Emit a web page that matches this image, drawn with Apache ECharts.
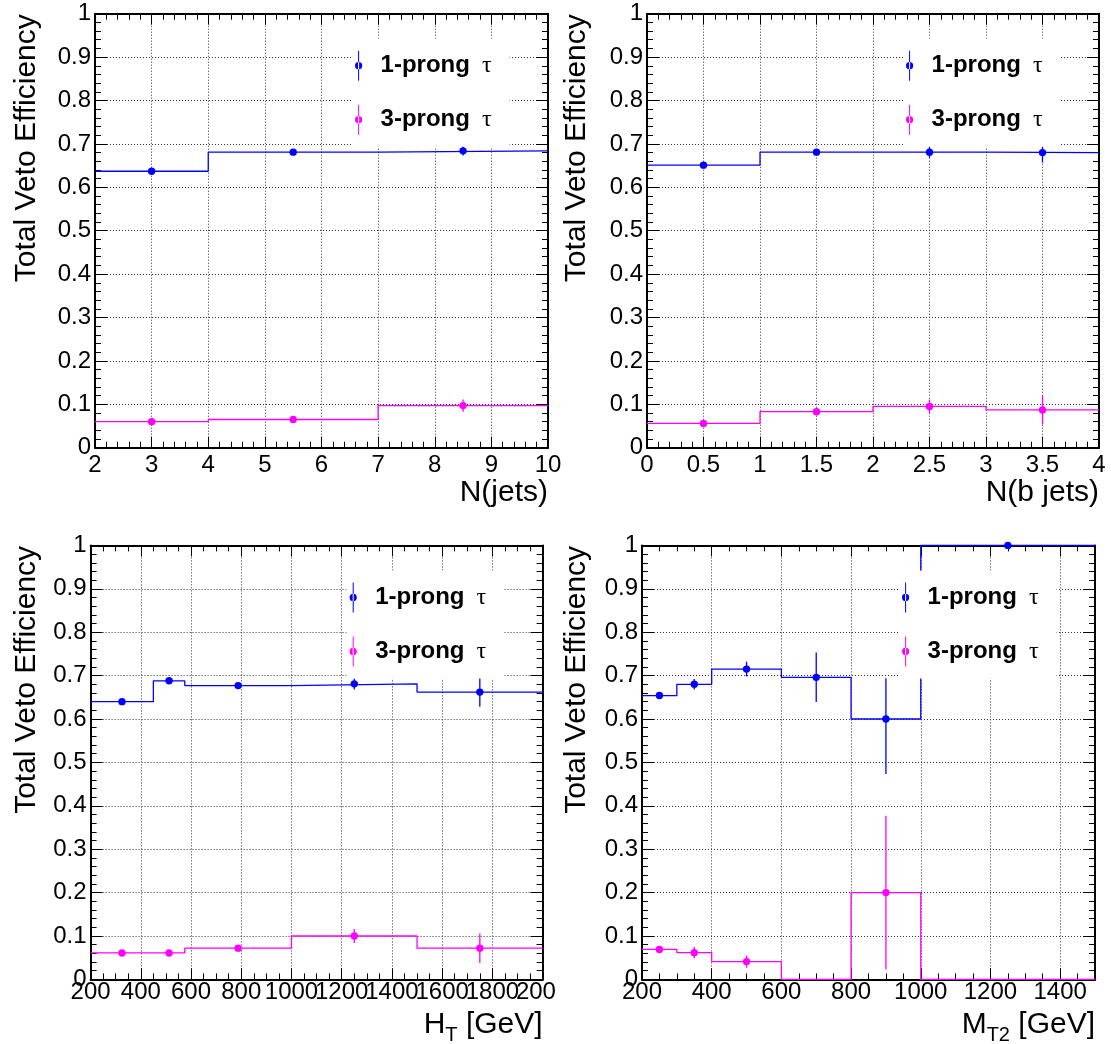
<!DOCTYPE html>
<html><head><meta charset="utf-8">
<script src="https://cdn.jsdelivr.net/npm/echarts@6/dist/echarts.min.js"></script>
<style>html,body{margin:0;padding:0;background:#fff}#c{width:1111px;height:1044px}</style>
</head><body><div id="c"></div><script>
// ---------- DATA ----------
// Panel 1: N(jets)
const njetsEdges = [2, 4, 7, 10];
const njets1prong = [0.637, 0.681, 0.684];
const njets1prongErr = [0.005, 0.005, 0.011];
const njets3prong = [0.060, 0.065, 0.097];
const njets3prongErr = [0.004, 0.005, 0.014];
const njetsTicks = ['2', '3', '4', '5', '6', '7', '8', '9', '10'];

// Panel 2: N(b jets)
const nbEdges = [0, 1, 2, 3, 4];
const nb1prong = [0.651, 0.681, 0.681, 0.680];
const nb1prongErr = [0.006, 0.006, 0.013, 0.023];
const nb3prong = [0.056, 0.083, 0.095, 0.087];
const nb3prongErr = [0.005, 0.007, 0.016, 0.033];
const nbTicks = ['0', '0.5', '1', '1.5', '2', '2.5', '3', '3.5', '4'];

// Panel 3: H_T [GeV]
const htEdges = [200, 450, 575, 1000, 1500, 2000];
const ht1prong = [0.640, 0.688, 0.677, 0.681, 0.662];
const ht1prongErr = [0.005, 0.006, 0.005, 0.013, 0.034];
const ht3prong = [0.061, 0.061, 0.072, 0.100, 0.072];
const ht3prongErr = [0.004, 0.005, 0.006, 0.016, 0.034];
const htTicks = ['200', '400', '600', '800', '1000', '1200', '1400', '1600', '1800', '2000'];

// Panel 4: M_T2 [GeV]  (null error = no efficiency point drawn)
const mt2Edges = [200, 300, 400, 600, 800, 1000, 1500];
const mt21prong = [0.654, 0.680, 0.715, 0.696, 0.600, 1.000];
const mt21prongErrLo = [0.005, 0.012, 0.017, 0.057, 0.127, 0];
const mt21prongErrHi = [0.005, 0.012, 0.017, 0.057, 0.094, 0];
const mt23prong = [0.069, 0.0615, 0.041, 0, 0.200, 0];
const mt23prongErrLo = [0.004, 0.013, 0.014, null, 0.177, null];
const mt23prongErrHi = [0.004, 0.013, 0.014, null, 0.177, null];
const mt2Ticks = ['200', '400', '600', '800', '1000', '1200', '1400'];

const yTicks = ['0', '0.1', '0.2', '0.3', '0.4', '0.5', '0.6', '0.7', '0.8', '0.9', '1'];
const seriesNames = ['1-prong \u03c4', '3-prong \u03c4'];
const yTitle = 'Total Veto Efficiency';

// ---------- STYLE / LAYOUT ----------
const FONT = '"Liberation Sans", Arial, Helvetica, sans-serif';
const SERIF = '"Liberation Serif", "DejaVu Serif", serif';
const BLUE = '#0000ff', MAG = '#ff00ff';

const panels = [
  { edges: njetsEdges, v: [njets1prong, njets3prong], lo: [njets1prongErr, njets3prongErr], hi: [njets1prongErr, njets3prongErr],
    xmin: 2, xmax: 10, xint: 1, xminor: 5, ticks: njetsTicks,
    title: '{n|N(jets)}', L: 95, T: 13.7, W: 453, H: 434, lm: 6, ytx: 27 },
  { edges: nbEdges, v: [nb1prong, nb3prong], lo: [nb1prongErr, nb3prongErr], hi: [nb1prongErr, nb3prongErr],
    xmin: 0, xmax: 4, xint: 0.5, xminor: 5, ticks: nbTicks,
    title: '{n|N(b jets)}', L: 647, T: 13.7, W: 452, H: 434, lm: 6, ytx: 577 },
  { edges: htEdges, v: [ht1prong, ht3prong], lo: [ht1prongErr, ht3prongErr], hi: [ht1prongErr, ht3prongErr],
    xmin: 200, xmax: 2000, xint: 200, xminor: 4, ticks: htTicks,
    title: '{n|H}{s|T}{n| [GeV]}', L: 90.6, T: 545.4, W: 452, H: 434, lm: 1, ytx: 27 },
  { edges: mt2Edges, v: [mt21prong, mt23prong], lo: [mt21prongErrLo, mt23prongErrLo], hi: [mt21prongErrHi, mt23prongErrHi],
    xmin: 200, xmax: 1500, xint: 200, xminor: 4, ticks: mt2Ticks,
    title: '{n|M}{s|T2}{n| [GeV]}', L: 642, T: 545.4, W: 453, H: 434, lm: 1, ytx: 577 }
];

const grids = [], xAxes = [], yAxes = [], series = [], legends = [], graphics = [];

function tickStyle(len) { return { show: true, inside: true, length: len, lineStyle: { color: '#000', width: 1 } }; }
function minorStyle(n, len) { return { show: true, splitNumber: n, length: len, lineStyle: { color: '#000', width: 1 } }; }
const gridLine = { show: true, lineStyle: { color: '#333', width: 1, type: [1, 2] } };
const frameLine = { show: true, onZero: false, lineStyle: { color: '#000', width: 2 } };

panels.forEach((p, i) => {
  grids.push({ left: p.L, top: p.T, width: p.W, height: p.H, containLabel: false, outerBoundsMode: 'none' });
  // labels split over two coincident bottom axes (even / odd ticks), so crowded labels all stay visible
  const xlab = parity => v => {
    const k = Math.round((v - p.xmin) / p.xint);
    if (Math.abs(p.xmin + k * p.xint - v) > 1e-6 * p.xint) return '';
    return (k % 2 === parity && p.ticks[k] !== undefined) ? p.ticks[k] : '';
  };
  const labelStyle = parity => ({ show: true, margin: p.lm, fontSize: 24, fontFamily: FONT, color: '#000',
      showMinLabel: true, showMaxLabel: true, hideOverlap: false, formatter: xlab(parity) });
  xAxes.push({
    gridIndex: i, type: 'value', position: 'bottom', min: p.xmin, max: p.xmax, interval: p.xint,
    axisLine: frameLine, axisTick: tickStyle(11), minorTick: minorStyle(p.xminor, 6),
    axisLabel: labelStyle(0),
    splitLine: gridLine, minorSplitLine: { show: false }
  });
  xAxes.push({
    gridIndex: i, type: 'value', position: 'top', min: p.xmin, max: p.xmax, interval: p.xint,
    axisLine: frameLine, axisTick: tickStyle(11), minorTick: minorStyle(p.xminor, 6),
    axisLabel: { show: false }, splitLine: { show: false }
  });
  xAxes.push({
    gridIndex: i, type: 'value', position: 'bottom', offset: 0, min: p.xmin, max: p.xmax, interval: p.xint,
    axisLine: { show: false, onZero: false }, axisTick: { show: false }, minorTick: { show: false },
    axisLabel: labelStyle(1), splitLine: { show: false }
  });
  yAxes.push({
    gridIndex: i, type: 'value', position: 'left', min: 0, max: 1, interval: 0.1,
    axisLine: frameLine, axisTick: tickStyle(12), minorTick: minorStyle(5, 6),
    axisLabel: { show: true, margin: 4, fontSize: 24, fontFamily: FONT, color: '#000',
      showMinLabel: true, showMaxLabel: true, formatter: v => yTicks[Math.round(v * 10)] },
    splitLine: gridLine, minorSplitLine: { show: false }
  });
  yAxes.push({
    gridIndex: i, type: 'value', position: 'right', min: 0, max: 1, interval: 0.1,
    axisLine: frameLine, axisTick: tickStyle(12), minorTick: minorStyle(5, 6),
    axisLabel: { show: false }, splitLine: { show: false }
  });

  const colors = [BLUE, MAG];
  [0, 1].forEach(s => {
    const vals = p.v[s];
    const stepData = [];
    vals.forEach((val, b) => { stepData.push([p.edges[b], val]); stepData.push([p.edges[b + 1], val]); });
    series.push({
      type: 'line', name: seriesNames[s] + ' hist', xAxisIndex: 3 * i, yAxisIndex: 2 * i,
      data: stepData, showSymbol: false, symbol: 'none', clip: false,
      lineStyle: { color: colors[s], width: 1.3 }, itemStyle: { color: colors[s] }, z: 3, silent: true
    });
    const pts = [];
    vals.forEach((val, b) => {
      if (p.lo[s][b] === null) return;
      pts.push([(p.edges[b] + p.edges[b + 1]) / 2, val, p.lo[s][b], p.hi[s][b]]);
    });
    series.push({
      type: 'custom', name: seriesNames[s], xAxisIndex: 3 * i, yAxisIndex: 2 * i,
      data: pts, encode: { x: 0, y: 1 }, clip: false, z: 4, silent: true,
      itemStyle: { color: colors[s] },
      renderItem: (params, api) => {
        const x = api.value(0), y = api.value(1), lo = api.value(2), hi = api.value(3);
        const c = api.coord([x, y]);
        const a = api.coord([x, y - lo]);
        const b2 = api.coord([x, y + hi]);
        return { type: 'group', children: [
          { type: 'line', shape: { x1: c[0], y1: a[1], x2: c[0], y2: b2[1] }, style: { stroke: colors[s], lineWidth: 1.3 } },
          { type: 'circle', shape: { cx: c[0], cy: c[1], r: 3.7 }, style: { fill: colors[s] } }
        ] };
      }
    });
  });

  const R = p.L + p.W;
  legends.push({
    show: true, data: seriesNames, orient: 'vertical', left: R - 196, top: p.T + 25,
    padding: [12, 18, 12, 3], itemWidth: 34, itemHeight: 30, itemGap: 24,
    backgroundColor: '#fff', selectedMode: false, z: 10,
    icon: 'path://M3.1,0 L4.1,0 L4.1,30 L3.1,30 Z M0,15 A3.6,3.6 0 1,0 7.2,15 A3.6,3.6 0 1,0 0,15 Z',
    formatter: n => '{b|' + n.split(' ')[0] + '}{t|  \u03c4}',
    textStyle: { rich: {
      b: { fontFamily: FONT, fontWeight: 'bold', fontSize: 24, color: '#000' },
      t: { fontFamily: SERIF, fontSize: 24, color: '#000' }
    } }
  });

  graphics.push({
    type: 'text', x: p.ytx, y: p.T + 0.5, rotation: Math.PI / 2, z: 20,
    style: { text: yTitle, fontFamily: FONT, fontSize: 30, fill: '#000', align: 'right', verticalAlign: 'middle' }
  });
  graphics.push({
    type: 'text', x: R, y: p.T + p.H + 30.5, z: 20,
    style: { text: p.title, align: 'right', verticalAlign: 'top', fill: '#000',
      rich: {
        n: { fontFamily: FONT, fontSize: 30, fill: '#000', verticalAlign: 'top' },
        s: { fontFamily: FONT, fontSize: 20, fill: '#000', verticalAlign: 'top', padding: [16, 0, 0, 0] }
      } }
  });
});

// the left pads end at x = 555: text overflowing a pad is cut there
graphics.push({ type: 'rect', x: 555, y: 981, z: 100, shape: { width: 40, height: 28 }, style: { fill: '#fff' } });

const chart = echarts.init(document.getElementById('c'), null, { renderer: 'canvas' });
chart.setOption({
  animation: false, backgroundColor: '#fff',
  grid: grids, xAxis: xAxes, yAxis: yAxes, series: series, legend: legends, graphic: graphics
});
</script></body></html>
